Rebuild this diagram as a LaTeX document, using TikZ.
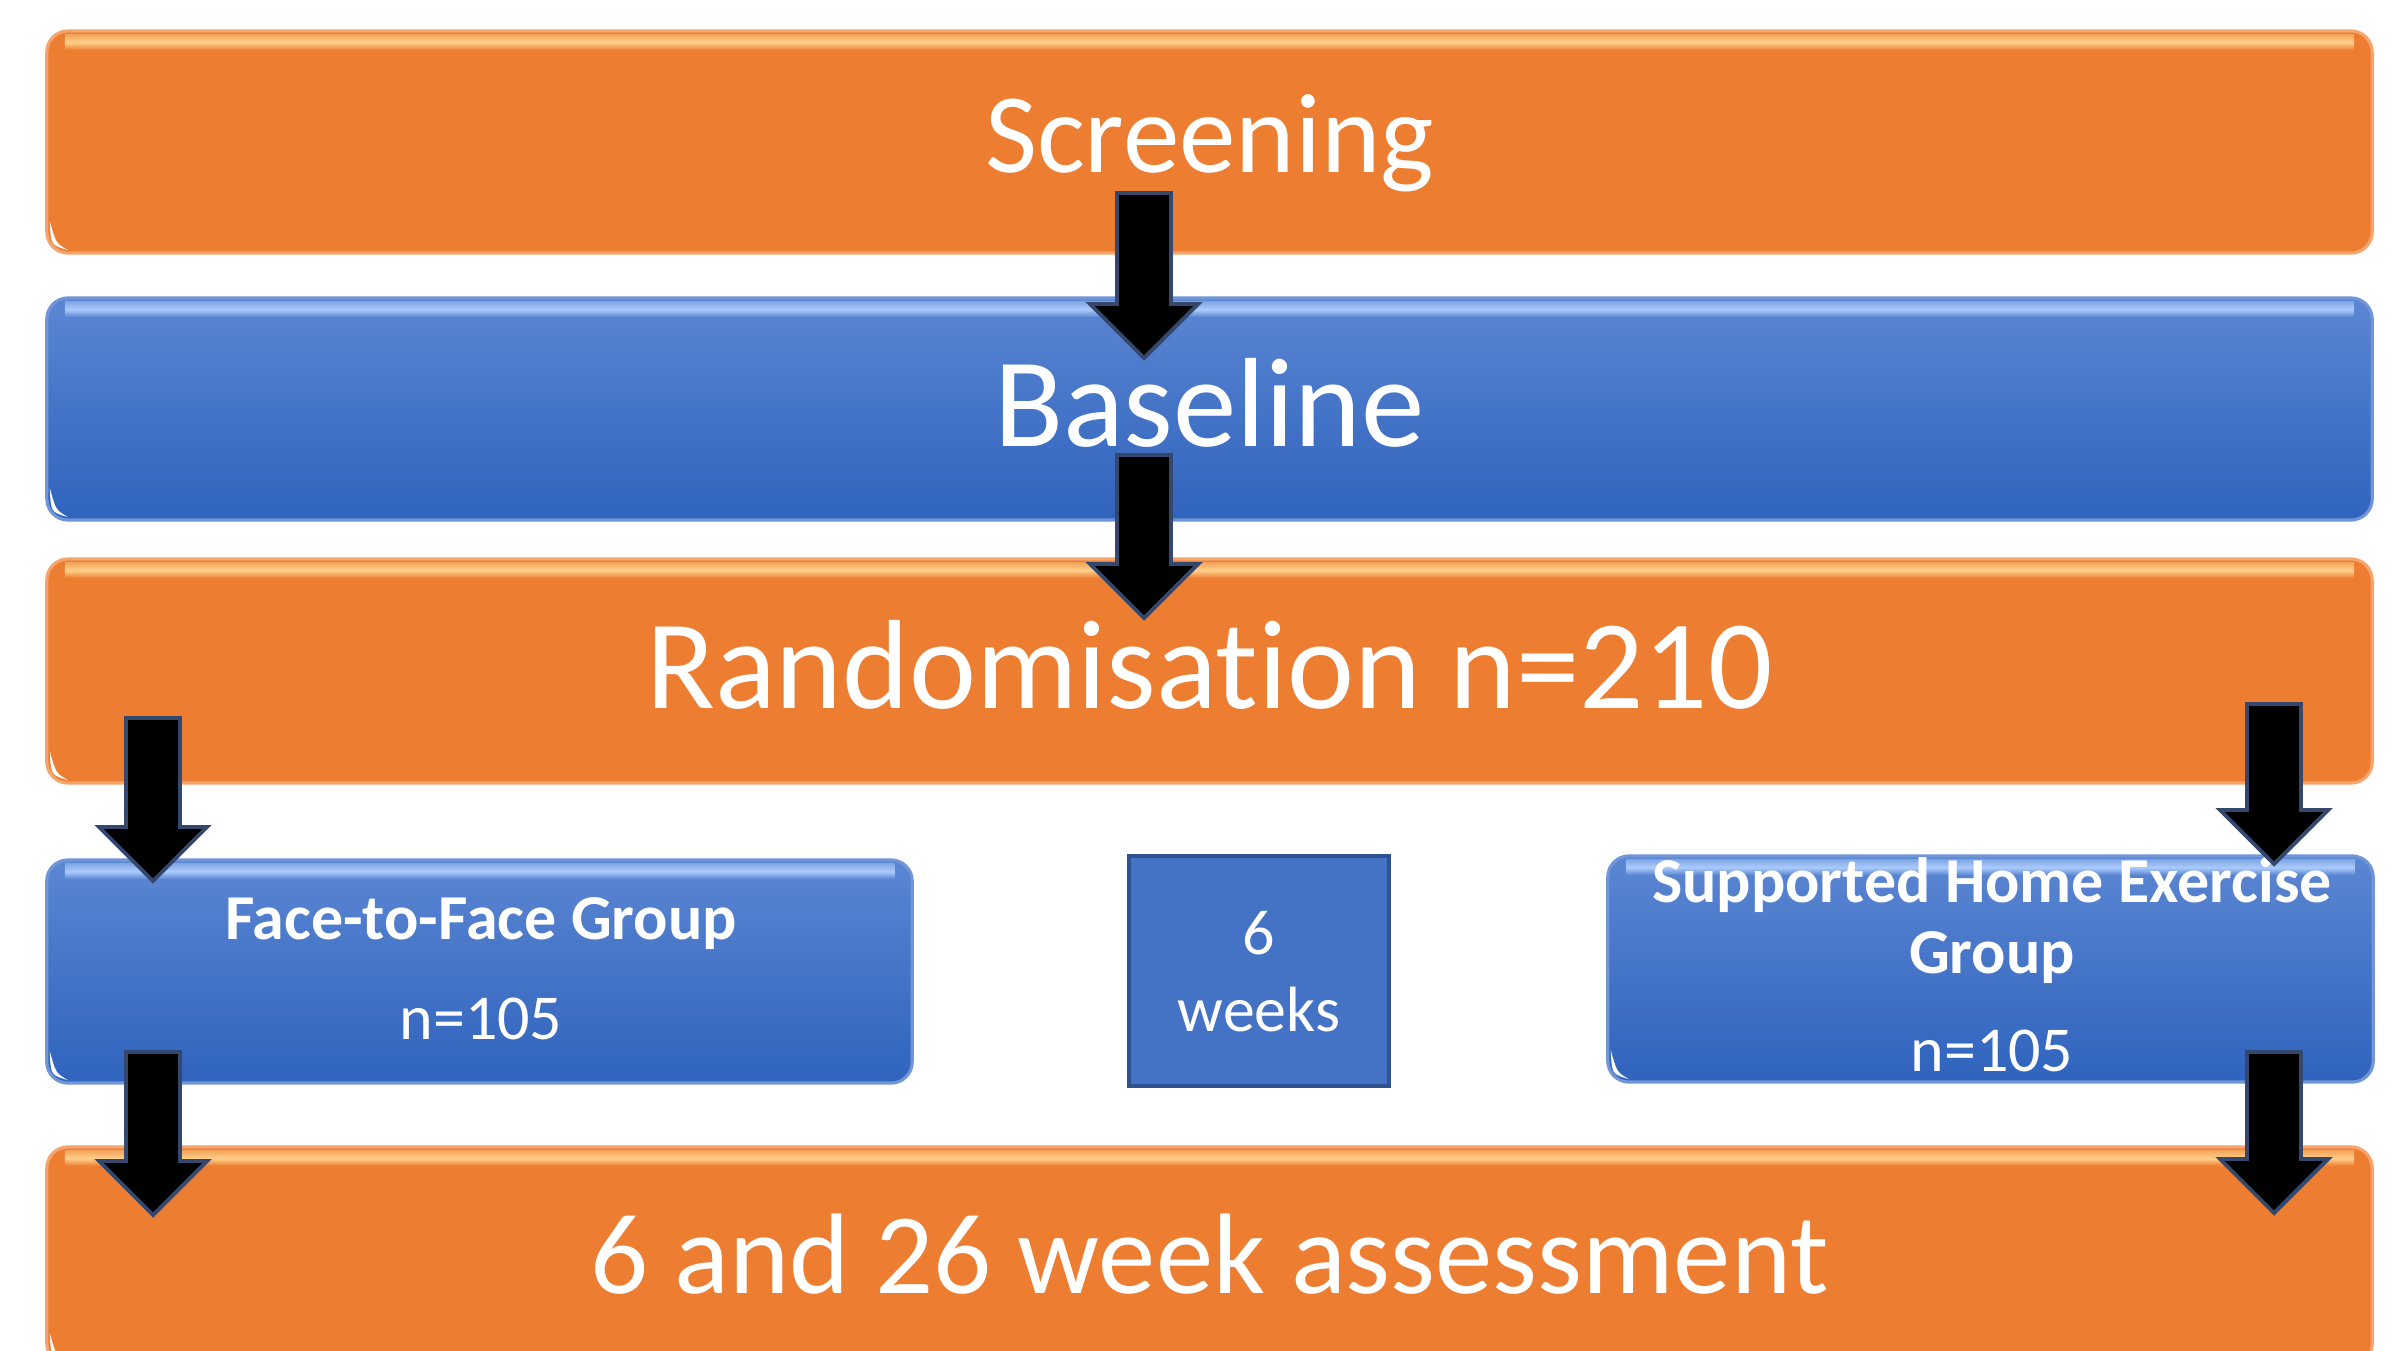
\documentclass[tikz,border=0pt]{standalone}
\usepackage{fontspec}
\setmainfont[Ligatures=NoCommon]{Carlito}
\usetikzlibrary{calc}
\definecolor{orng}{HTML}{ED7D31}
\definecolor{orngedge}{HTML}{F4A46C}
\definecolor{orngband}{HTML}{FFCF8A}
\definecolor{bluetop}{HTML}{5B86D2}
\definecolor{bluebot}{HTML}{2F63BD}
\definecolor{blueedge}{HTML}{7096D8}
\definecolor{blueband}{HTML}{ABCBFC}
\definecolor{wkfill}{HTML}{4472C4}
\definecolor{wkedge}{HTML}{2F528F}
\definecolor{arrowedge}{HTML}{34486E}
\newcommand\glossband[3]{%
  \shade[top color=#3!50!#2, bottom color=#3, middle color=#2]
    ($(#1.north west)+(18,4)$) rectangle ($(#1.north east)+(-18,19)$);
  \fill[white]
    ($(#1.south west)+(3,-32)$) .. controls ($(#1.south west)+(4,-8)$) .. ($(#1.south west)+(21,-3)$)
    .. controls ($(#1.south west)+(9,-10)$) .. cycle;
}
\newcommand\blockarrow[2]{%
  \filldraw[barrow] ($(#1)+(-27,0)$) -- ($(#2)+(-27,-54)$) -- ($(#2)+(-54,-54)$) -- (#2)
    -- ($(#2)+(54,-54)$) -- ($(#2)+(27,-54)$) -- ($(#1)+(27,0)$) -- cycle;
}
\begin{document}
\begin{tikzpicture}[x=0.01cm,y=-0.01cm,
  every node/.style={inner sep=0pt, outer sep=0pt, text=white},
  obox/.style={draw=orngedge, fill=orng, line width=0.9pt, rounded corners=6pt, minimum width=23.24cm},
  bbox/.style={draw=blueedge, line width=0.9pt, rounded corners=6pt, top color=bluetop, bottom color=bluebot},
  wkbox/.style={draw=wkedge, fill=wkfill, line width=1.1pt},
  smalltxt/.style={font=\fontsize{18.2pt}{20.6pt}\selectfont, anchor=base},
  smallbold/.style={font=\fontsize{18.2pt}{20.6pt}\selectfont\bfseries, anchor=base},
  barrow/.style={fill=black, draw=arrowedge, line width=1.1pt, line join=miter}]
\useasboundingbox (0,0) rectangle (2396,1351);
\clip (0,0) rectangle (2396,1351);
\fill[white] (0,0) rectangle (2396,1351);

% big boxes
\node[obox, minimum height=2.22cm, text height=17.6pt, text depth=0pt,
  font=\fontsize{32.2pt}{36pt}\selectfont] (scr) at (1209.5,142) {Screening};
\node[bbox, minimum width=23.24cm, minimum height=2.22cm, text height=21.6pt, text depth=0pt,
  font=\fontsize{36.1pt}{40pt}\selectfont] (base) at (1209.5,409) {Baseline};
\node[obox, minimum height=2.24cm, text height=21.05pt, text depth=0pt,
  font=\fontsize{36.1pt}{40pt}\selectfont] (rand) at (1209.5,671) {Randomisation n=210};
\node[obox, minimum height=2.18cm, text height=21.05pt, text depth=0pt,
  font=\fontsize{32.6pt}{36pt}\selectfont] (assess) at (1209.5,1256) {6 and 26 week assessment};

% small boxes
\node[bbox, minimum width=8.65cm, minimum height=2.23cm] (f2f) at (479.5,971.5) {};
\node[wkbox, minimum width=2.60cm, minimum height=2.30cm] (wk) at (1259,971) {};
\node[bbox, minimum width=7.65cm, minimum height=2.26cm] (she) at (1990.5,969) {};

\glossband{scr}{orngband}{orng}
\glossband{base}{blueband}{bluetop}
\glossband{rand}{orngband}{orng}
\glossband{assess}{orngband}{orng}
\glossband{f2f}{blueband}{bluetop}
\glossband{she}{blueband}{bluetop}

% texts of small boxes
\node[smallbold] (f2fa) at (481,939) {Face-to-Face Group};
\node[smalltxt] (f2fb) at (481,1039) {n=105};
\node[smalltxt] (wka) at (1259,954) {6};
\node[smalltxt] (wkb) at (1259,1031) {weeks};
\node[smallbold] (shea) at (1992,902) {Supported Home Exercise};
\node[smallbold] (sheb) at (1992,973) {Group};
\node[smalltxt] (shec) at (1992,1071) {n=105};

% arrows
\coordinate (a1s) at (1144,193);  \coordinate (a1e) at (1144,358);
\coordinate (a2s) at (1144,455);  \coordinate (a2e) at (1144,618);
\coordinate (a3s) at (153,718);   \coordinate (a3e) at (153,881);
\coordinate (a4s) at (153,1052);  \coordinate (a4e) at (153,1215);
\coordinate (a5s) at (2274,704);  \coordinate (a5e) at (2274,864);
\coordinate (a6s) at (2274,1052); \coordinate (a6e) at (2274,1213);
\blockarrow{a1s}{a1e}
\blockarrow{a2s}{a2e}
\blockarrow{a3s}{a3e}
\blockarrow{a4s}{a4e}
\blockarrow{a5s}{a5e}
\blockarrow{a6s}{a6e}
\end{tikzpicture}
\end{document}
